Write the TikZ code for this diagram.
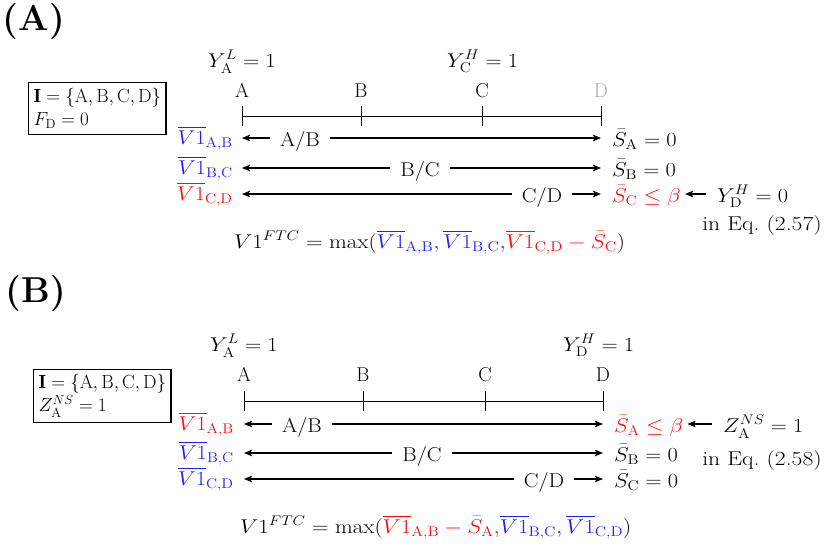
\RequirePackage{fix-cm}
\documentclass[tikz,border=0pt]{standalone}
\usepackage{amsmath}
\usepackage{fontspec}
\usetikzlibrary{arrows.meta}
\definecolor{myblue}{RGB}{30,30,255}
\definecolor{myred}{RGB}{255,10,10}
\definecolor{mygray}{RGB}{170,170,170}
\newcommand{\vbar}[1]{\overline{V1}_{\text{#1}}}
\newcommand{\sbar}[1]{\bar{S}_{\mathrm{#1}}}
\begin{document}
\begin{tikzpicture}[x=1pt,y=-1pt,
  font=\fontsize{20}{24}\selectfont,
  txt/.style={inner sep=0pt, xscale=1.12},
  letter/.style={inner sep=0pt, anchor=base},
  seg/.style={inner xsep=9pt, inner ysep=0pt, anchor=base, xscale=1.1},
  wide/.style={inner sep=0pt, xscale=1.15},
  arr/.style={-{Stealth[length=8pt,width=6.5pt,inset=1.5pt]}, line width=1.1pt},
  axisline/.style={line width=0.9pt},
  infobox/.style={draw, line width=1.1pt, align=left, inner xsep=5pt, inner ysep=5pt, anchor=north west, font=\fontsize{19}{23}\selectfont},
  panel/.style={inner sep=0pt, font=\fontsize{36}{40}\selectfont\bfseries}]
\useasboundingbox (0,0) rectangle (825,546);

% ================= Panel A =================
\node[panel] (pA) at (34,22) {(A)};
\node[infobox, inner ysep=6pt] (boxA) at (28,82) {$\mathbf{I}=\{\mathrm{A},\mathrm{B},\mathrm{C},\mathrm{D}\}$\\$F_{\mathrm{D}}=0$};

\node[txt, anchor=base west] (yALa) at (208,67) {$Y^{L}_{\mathrm{A}}=1$};
\node[txt, anchor=base west] (yCHa) at (447,67) {$Y^{H}_{\mathrm{C}}=1$};

\node[letter] (la) at (242,97) {A};
\node[letter] (lb) at (361,97) {B};
\node[letter] (lc) at (482,97) {C};
\node[letter, text=mygray] (ld) at (601,97) {D};

\coordinate (aA) at (242,116); \coordinate (aB) at (361,116);
\coordinate (aC) at (482,116); \coordinate (aD) at (601,116);
\draw[axisline] (aA) -- (aD);
\foreach \p in {aA,aB,aC,aD} \draw[axisline] ([yshift=-10pt]\p) -- ([yshift=10pt]\p);

% rows
\coordinate (a1L) at (242,138); \coordinate (a1R) at (601,138);
\coordinate (a2L) at (242,168); \coordinate (a2R) at (601,168);
\coordinate (a3L) at (242,194); \coordinate (a3R) at (601,194);

\node[txt, anchor=base east, text=myblue] (va1) at (233,144) {$\vbar{A,B}$};
\node[txt, anchor=base east, text=myblue] (va2) at (233,174) {$\vbar{B,C}$};
\node[txt, anchor=base east, text=myred] (va3) at (233,200) {$\vbar{C,D}$};

\node[seg] (sa1) at (300,146) {A/B};
\node[seg] (sa2) at (420,176) {B/C};
\node[seg] (sa3) at (542,202) {C/D};
\draw[arr] (sa1.west |- a1L) -- (a1L);
\draw[arr] (sa1.east |- a1R) -- (a1R);
\draw[arr] (sa2.west |- a2L) -- (a2L);
\draw[arr] (sa2.east |- a2R) -- (a2R);
\draw[arr] (sa3.west |- a3L) -- (a3L);
\draw[arr] (sa3.east |- a3R) -- (a3R);

\node[txt, anchor=base west] (Sa1) at (612,146) {$\sbar{A}=0$};
\node[txt, anchor=base west] (Sa2) at (612,176) {$\sbar{B}=0$};
\node[txt, anchor=base west, text=myred] (Sa3) at (612,202) {$\sbar{C}\leq\beta$};

\node[txt, anchor=base west] (yDHa) at (717,202) {$Y^{H}_{\mathrm{D}}=0$};
\draw[arr, shorten <=11pt, shorten >=4pt] (yDHa.west |- a3R) -- (Sa3.east |- a3R);
\node[inner sep=0pt, xscale=1.18, anchor=base] (eqa) at (762,230) {in Eq.\ (2.57)};

\node[wide, anchor=base west] (fa) at (234,248) {$V1^{FTC}=\max(\textcolor{myblue}{\vbar{A,B},\vbar{B,C},}\textcolor{myred}{\vbar{C,D}-\sbar{C}})$};

% ================= Panel B =================
\node[panel] (pB) at (36,294) {(B)};
\node[infobox] (boxB) at (33,369) {$\mathbf{I}=\{\mathrm{A},\mathrm{B},\mathrm{C},\mathrm{D}\}$\\$Z^{NS}_{\mathrm{A}}=1$};

\node[txt, anchor=base west] (yALb) at (210,351) {$Y^{L}_{\mathrm{A}}=1$};
\node[txt, anchor=base west] (yDHb) at (563,351) {$Y^{H}_{\mathrm{D}}=1$};

\node[letter] (ma) at (244,381) {A};
\node[letter] (mb) at (363,381) {B};
\node[letter] (mc) at (485,381) {C};
\node[letter] (md) at (603,381) {D};

\coordinate (bA) at (244,401); \coordinate (bB) at (363,401);
\coordinate (bC) at (485,401); \coordinate (bD) at (603,401);
\draw[axisline] (bA) -- (bD);
\foreach \p in {bA,bB,bC,bD} \draw[axisline] ([yshift=-10pt]\p) -- ([yshift=10pt]\p);

\coordinate (b1L) at (244,424); \coordinate (b1R) at (603,424);
\coordinate (b2L) at (244,453); \coordinate (b2R) at (603,453);
\coordinate (b3L) at (244,479); \coordinate (b3R) at (603,479);

\node[txt, anchor=base east, text=myred] (vb1) at (234,430) {$\vbar{A,B}$};
\node[txt, anchor=base east, text=myblue] (vb2) at (234,459) {$\vbar{B,C}$};
\node[txt, anchor=base east, text=myblue] (vb3) at (234,485) {$\vbar{C,D}$};

\node[seg] (sb1) at (302,432) {A/B};
\node[seg] (sb2) at (422,461) {B/C};
\node[seg] (sb3) at (544,487) {C/D};
\draw[arr] (sb1.west |- b1L) -- (b1L);
\draw[arr] (sb1.east |- b1R) -- (b1R);
\draw[arr] (sb2.west |- b2L) -- (b2L);
\draw[arr] (sb2.east |- b2R) -- (b2R);
\draw[arr] (sb3.west |- b3L) -- (b3L);
\draw[arr] (sb3.east |- b3R) -- (b3R);

\node[txt, anchor=base west, text=myred] (Sb1) at (614,432) {$\sbar{A}\leq\beta$};
\node[txt, anchor=base west] (Sb2) at (614,461) {$\sbar{B}=0$};
\node[txt, anchor=base west] (Sb3) at (614,487) {$\sbar{C}=0$};

\node[txt, anchor=base west] (zb) at (723,432) {$Z^{NS}_{\mathrm{A}}=1$};
\draw[arr, shorten <=11pt, shorten >=4pt] (zb.west |- b1R) -- (Sb1.east |- b1R);
\node[inner sep=0pt, xscale=1.18, anchor=base] (eqb) at (762,465) {in Eq.\ (2.58)};

\node[wide, anchor=base west] (fb) at (240,533) {$V1^{FTC}=\max(\textcolor{myred}{\vbar{A,B}-\sbar{A},}\textcolor{myblue}{\vbar{B,C},\vbar{C,D}})$};
\end{tikzpicture}
\end{document}
